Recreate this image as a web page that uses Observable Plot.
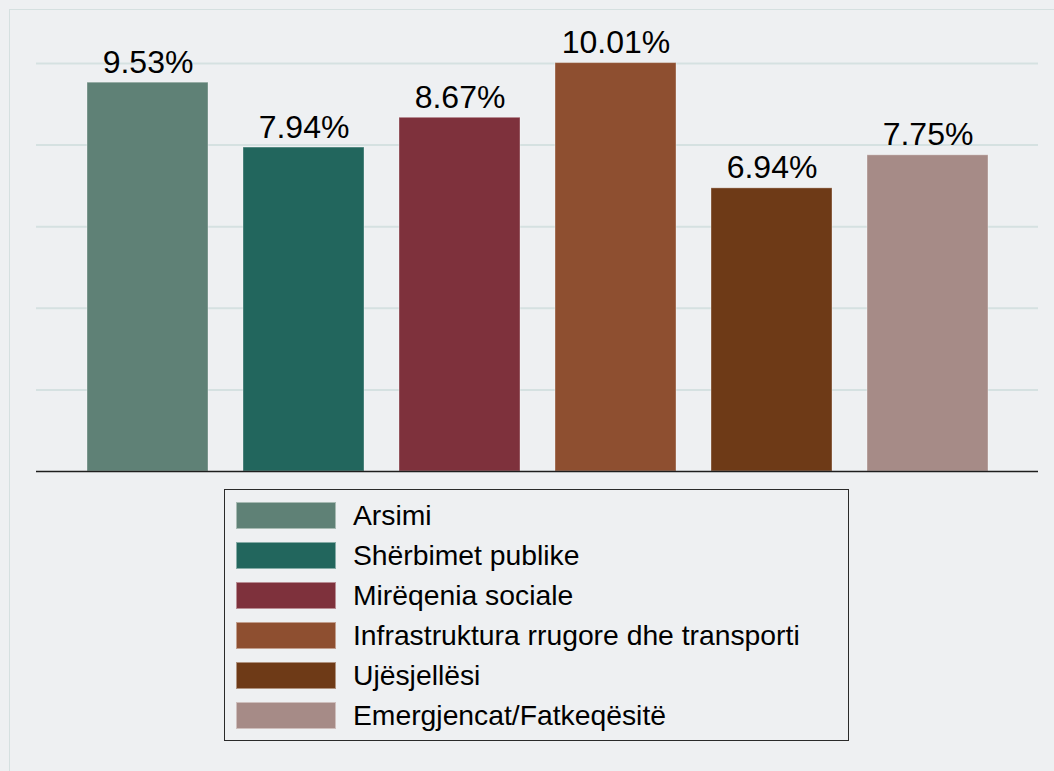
<!DOCTYPE html>
<html>
<head>
<meta charset="utf-8">
<script src="https://cdn.jsdelivr.net/npm/d3@7"></script>
<script src="https://cdn.jsdelivr.net/npm/@observablehq/plot@0.6"></script>
<style>
  html, body { margin: 0; padding: 0; background: #eef0f2; }
  #wrap { position: relative; width: 1054px; height: 771px; overflow: hidden; background: #eef0f2; font-family: "Liberation Sans", Arial, Helvetica, sans-serif; }
  #frame { position: absolute; left: 9px; top: 9px; width: 1100px; height: 800px; border-left: 1.5px solid #d5e0e0; border-top: 1.5px solid #d5e0e0; box-sizing: border-box; }
  #chart { position: absolute; left: 0; top: 0; }
  #legend { position: absolute; left: 224px; top: 489px; width: 625px; height: 252px; box-sizing: border-box; border: 1.6px solid #2a2a2a; padding: 5px 0 0 11px; }
  .row { display: flex; align-items: center; height: 40px; }
  .sw { width: 100px; height: 27px; box-sizing: border-box; border: 1px solid rgba(255,255,255,0.45); margin-right: 17px; flex: none; }
  .lab { font-size: 28.3px; color: #000; white-space: nowrap; }
</style>
</head>
<body>
<div id="wrap">
  <div id="frame"></div>
  <div id="chart"></div>
  <div id="legend"></div>
</div>
<script>
const categories = ["Arsimi", "Shërbimet publike", "Mirëqenia sociale", "Infrastruktura rrugore dhe transporti", "Ujësjellësi", "Emergjencat/Fatkeqësitë"];
const values = [9.53, 7.94, 8.67, 10.01, 6.94, 7.75];
const colors = ["#5f8176", "#22665d", "#7e313c", "#8e4f30", "#6e3a17", "#a68b87"];
const gridValues = [2, 4, 6, 8, 10];

const data = categories.map((c, i) => ({category: c, value: values[i], label: values[i].toFixed(2) + "%"}));

const chart = Plot.plot({
  width: 1054,
  height: 480,
  marginLeft: 36,
  marginRight: 16,
  marginTop: 63,
  marginBottom: 9,
  style: {background: "transparent", fontFamily: "'Liberation Sans', Arial, Helvetica, sans-serif", overflow: "visible"},
  x: {domain: categories, paddingInner: 0.225, paddingOuter: 0.32, axis: null},
  y: {domain: [0, 10], axis: null},
  color: {domain: categories, range: colors},
  marks: [
    Plot.ruleY(gridValues, {stroke: "#d5e1e1", strokeWidth: 2}),
    Plot.barY(data, {x: "category", y: "value", fill: "category", stroke: "#ffffff", strokeOpacity: 0.35, strokeWidth: 1}),
    Plot.ruleY([0], {stroke: "#1e1e1e", strokeWidth: 1.6}),
    Plot.text(data, {x: "category", y: "value", text: "label", lineAnchor: "bottom", dy: -10, fontSize: 32, fill: "#000"})
  ]
});
document.getElementById("chart").appendChild(chart);

const legend = document.getElementById("legend");
categories.forEach((c, i) => {
  const row = document.createElement("div");
  row.className = "row";
  const sw = document.createElement("div");
  sw.className = "sw";
  sw.style.background = colors[i];
  const lab = document.createElement("span");
  lab.className = "lab";
  lab.textContent = c;
  row.appendChild(sw);
  row.appendChild(lab);
  legend.appendChild(row);
});
</script>
</body>
</html>
